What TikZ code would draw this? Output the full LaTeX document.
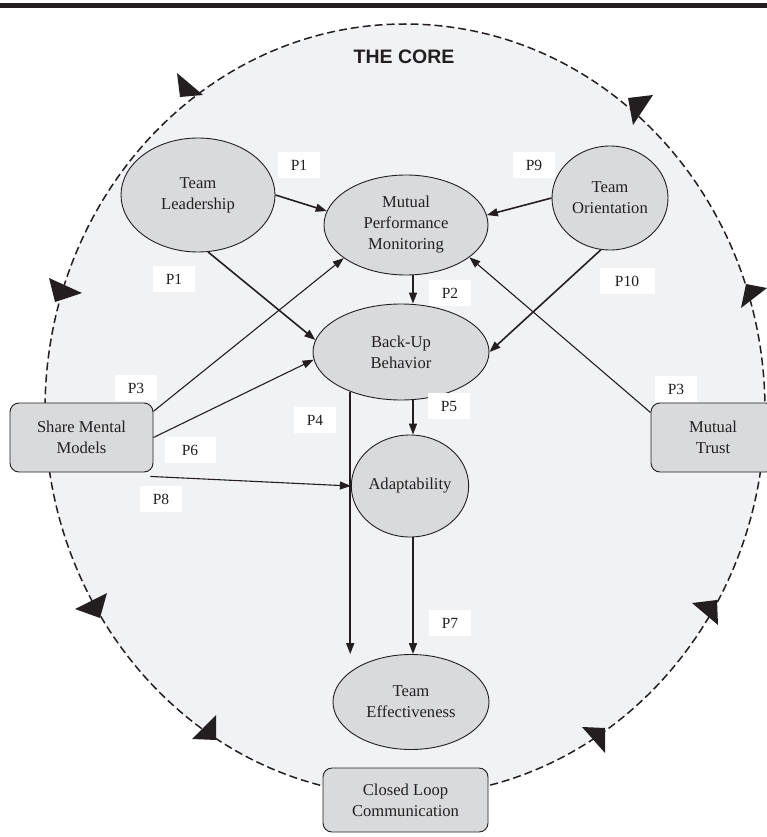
\documentclass[tikz,border=0pt]{standalone}
\usepackage{fontspec}
\setmainfont{Liberation Serif}
\newfontfamily\coresans{Liberation Sans}
\usetikzlibrary{shapes.geometric,arrows.meta}
\definecolor{corefill}{HTML}{F1F2F4}
\definecolor{nodefill}{HTML}{D9DADC}
\definecolor{edgecol}{HTML}{231F20}
\begin{document}
\begin{tikzpicture}[x=1pt,y=-1pt,
  oval/.style={ellipse, draw=edgecol, line width=0.9pt, fill=nodefill, inner sep=0pt, align=center, text=edgecol, font=\fontsize{16.6}{21}\selectfont},
  rbox/.style={rectangle, rounded corners=9pt, draw=edgecol, line width=0.9pt, fill=nodefill, inner sep=0pt, align=center, text=edgecol, font=\fontsize{16.6}{21}\selectfont},
  plabel/.style={fill=white, minimum width=42pt, minimum height=26pt, inner sep=0pt, text=edgecol, font=\fontsize{15.5}{18}\selectfont},
  link/.style={-{Triangle[length=11pt,width=8pt]}, line width=1.6pt, draw=edgecol},
  thinlink/.style={-{Triangle[length=11pt,width=8pt]}, line width=1.1pt, draw=edgecol},
  marker/.style={fill=edgecol}
]
\useasboundingbox (0,0) rectangle (767,837);
% top rule
\fill[edgecol] (0,3) rectangle (767,8);
% core ellipse
\draw[dash pattern=on 8pt off 4pt, line width=1.5pt, draw=edgecol, fill=corefill] (405,410) ellipse [x radius=360, y radius=386];
% arrowheads on the loop
\fill[marker] (177,73) -- (180,97) -- (203,95) -- cycle;
\fill[marker] (628,98) -- (653,95) -- (633,125) -- cycle;
\fill[marker] (49,278) -- (82,293) -- (55,302) -- cycle;
\fill[marker] (746,284) -- (767,288) -- (741,308) -- cycle;
\fill[marker] (75,609) -- (107,593) -- (100,618) -- cycle;
\fill[marker] (216,715) -- (216,740) -- (192,739) -- cycle;
\fill[marker] (692,603) -- (717,600) -- (718,625) -- cycle;
\fill[marker] (582,727) -- (605,728) -- (605,753) -- cycle;

\node[text=edgecol, font=\coresans\bfseries\fontsize{19.5}{22}\selectfont] (core) at (404,57) {THE CORE};

% ellipses
\node[oval, minimum width=154pt, minimum height=114pt] (tl) at (198,195) {Team\\Leadership};
\node[oval, minimum width=164pt, minimum height=100pt] (mpm) at (406,225) {Mutual\\Performance\\Monitoring};
\node[oval, minimum width=116pt, minimum height=104pt] (to) at (610,198) {Team\\Orientation};
\node[oval, minimum width=176pt, minimum height=96pt] (bub) at (401,352) {Back-Up\\Behavior};
\node[oval, minimum width=111pt, minimum height=102pt] (adp) at (410,486) {Adaptability};
\node[oval, minimum width=156pt, minimum height=95pt] (te) at (411,702) {Team\\Effectiveness};

% boxes
\node[rbox, minimum width=143pt, minimum height=69pt] (smm) at (81.5,437.5) {Share Mental\\Models};
\node[rbox, minimum width=124pt, minimum height=69pt] (mt) at (713,437.5) {Mutual\\Trust};
\node[rbox, minimum width=165pt, minimum height=64pt] (clc) at (405.5,800) {Closed Loop\\Communication};

% labels
\node[plabel] (p1a) at (299,165.5) {P1};
\node[plabel] (p1b) at (174,279) {P1};
\node[plabel] (p2) at (450,293) {P2};
\node[plabel] (p9) at (534,165) {P9};
\node[plabel, minimum width=55pt] (p10) at (627,281) {P10};
\node[plabel] (p3a) at (136,388) {P3};
\node[plabel, minimum width=51pt] (p6) at (190,450) {P6};
\node[plabel] (p8) at (161,499) {P8};
\node[plabel] (p4) at (315,420) {P4};
\node[plabel] (p5) at (449,406) {P5};
\node[plabel] (p7) at (450,623) {P7};
\node[plabel] (p3b) at (676,389) {P3};

% connectors
\draw[link] (tl.east) -- (mpm.170);
\draw[link] (tl.-80) -- (bub.172);
\draw[thinlink] (smm.20) -- (mpm.208);
\draw[thinlink] (smm.east) -- (bub.185);
\coordinate (s1) at ([xshift=-3pt,yshift=-4pt]smm.south east);
\draw[thinlink] (s1) -- (adp.west);
\coordinate (m1) at ([xshift=7pt]mpm.south);
\draw[link] (m1) -- (m1 |- bub.north);
\draw[link] (to.west) -- (mpm.7);
\draw[link] (to.-100) -- (bub.east);
\coordinate (t1) at ([yshift=-10pt]mt.north west);
\draw[thinlink] (t1) -- (mpm.-27);
\coordinate (b1) at ([xshift=12pt]bub.south);
\draw[link] (b1) -- (b1 |- adp.north);
\coordinate (b2) at (bub.-142.5);
\draw[link] (b2) -- (b2 |- te.north);
\coordinate (a1) at ([xshift=3pt]adp.south);
\draw[link] (a1) -- (a1 |- te.north);
\end{tikzpicture}
\end{document}
